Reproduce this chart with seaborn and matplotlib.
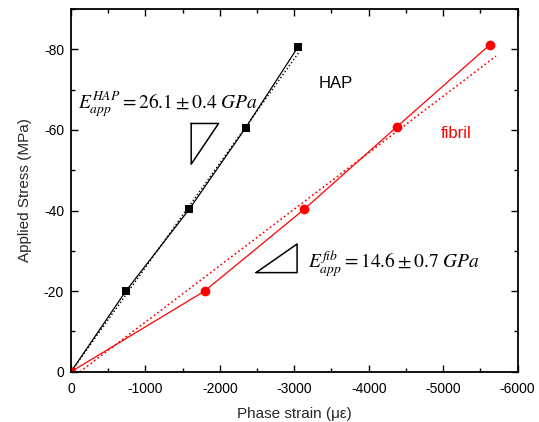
import pandas as pd
import matplotlib
matplotlib.use("Agg")
import matplotlib.pyplot as plt
import seaborn as sns
from matplotlib.ticker import MultipleLocator

# measured points (phase strain in micro-strain, applied stress in MPa)
hap_strain = [0, -736, -1588, -2346, -3051]
hap_stress = [0, -20.0, -40.3, -60.5, -80.6]
fib_strain = [0, -1794, -3132, -4374, -5626]
fib_stress = [0, -20.0, -40.3, -60.7, -81.1]

# linear fit lines (dotted), read at their ends
hap_fit_strain = [0, -3060]
hap_fit_stress = [0, -79.2]
fib_fit_strain = [-120, -5710]
fib_fit_stress = [0, -78.3]

x_ticks = [0, -1000, -2000, -3000, -4000, -5000, -6000]
y_ticks = [0, -20, -40, -60, -80]

sns.set_style("ticks")
plt.rcParams["font.family"] = ["Liberation Sans", "DejaVu Sans"]
plt.rcParams["mathtext.fontset"] = "stix"
plt.rcParams["axes.unicode_minus"] = False

hap = pd.DataFrame({"strain": hap_strain, "stress": hap_stress})
fib = pd.DataFrame({"strain": fib_strain, "stress": fib_stress})

fig = plt.figure(figsize=(5.39, 4.22), dpi=100)
ax = fig.add_axes([0.1317, 0.119, 0.8285, 0.8597])

# dotted fits
sns.lineplot(x=hap_fit_strain, y=hap_fit_stress, ax=ax, color="black",
             linestyle=":", linewidth=1, estimator=None, sort=False)
sns.lineplot(x=fib_fit_strain, y=fib_fit_stress, ax=ax, color="red",
             linestyle=":", linewidth=1.2, estimator=None, sort=False)

# data with connecting lines
sns.lineplot(data=hap, x="strain", y="stress", ax=ax, color="black",
             linewidth=0.9, marker="s", markersize=6, markeredgewidth=0,
             estimator=None, sort=False)
sns.lineplot(data=fib, x="strain", y="stress", ax=ax, color="red",
             linewidth=0.9, marker="o", markersize=7, markeredgewidth=0,
             estimator=None, sort=False)

ax.set_xlim(0, -6000)
ax.set_ylim(0, -90)
ax.set_xticks(x_ticks)
ax.set_yticks(y_ticks)
ax.xaxis.set_minor_locator(MultipleLocator(500))
ax.yaxis.set_minor_locator(MultipleLocator(10))
ax.tick_params(which="both", direction="in", top=True, right=True,
               labelsize=10, width=1, colors="black")
ax.tick_params(which="major", length=5)
ax.tick_params(which="minor", length=3)
ax.tick_params(axis="x", which="major", pad=7)
ax.tick_params(axis="y", which="major", pad=5)
for s in ax.spines.values():
    s.set_linewidth(1.3)
    s.set_color("black")

ax.set_xlabel("Phase strain (\u03bc\u03b5)", fontsize=11, labelpad=8)
ax.set_ylabel("Applied Stress (MPa)", fontsize=11)
ax.yaxis.set_label_coords(-0.087, 0.5)

# slope triangles
ax.plot([-1615, -1983, -1615, -1615], [-61.6, -61.6, -51.5, -61.6],
        color="black", linewidth=1.1)
ax.plot([-2486, -3038, -3038, -2486], [-24.6, -24.6, -31.7, -24.6],
        color="black", linewidth=1.1)

# annotations
ax.text(-100, -65.2, r"$E_{app}^{HAP} = 26.1 \pm 0.4\ GPa$", fontsize=14,
        ha="left", va="baseline", color="black")
ax.text(-3180, -25.7, r"$E_{app}^{fib} = 14.6 \pm 0.7\ GPa$", fontsize=14,
        ha="left", va="baseline", color="black")
ax.text(-3553, -71.6, "HAP", fontsize=12, color="black", ha="center",
        va="center")
ax.text(-5175, -59.2, "fibril", fontsize=12, color="red", ha="center",
        va="center")

fig.savefig("out.png", dpi=100)
